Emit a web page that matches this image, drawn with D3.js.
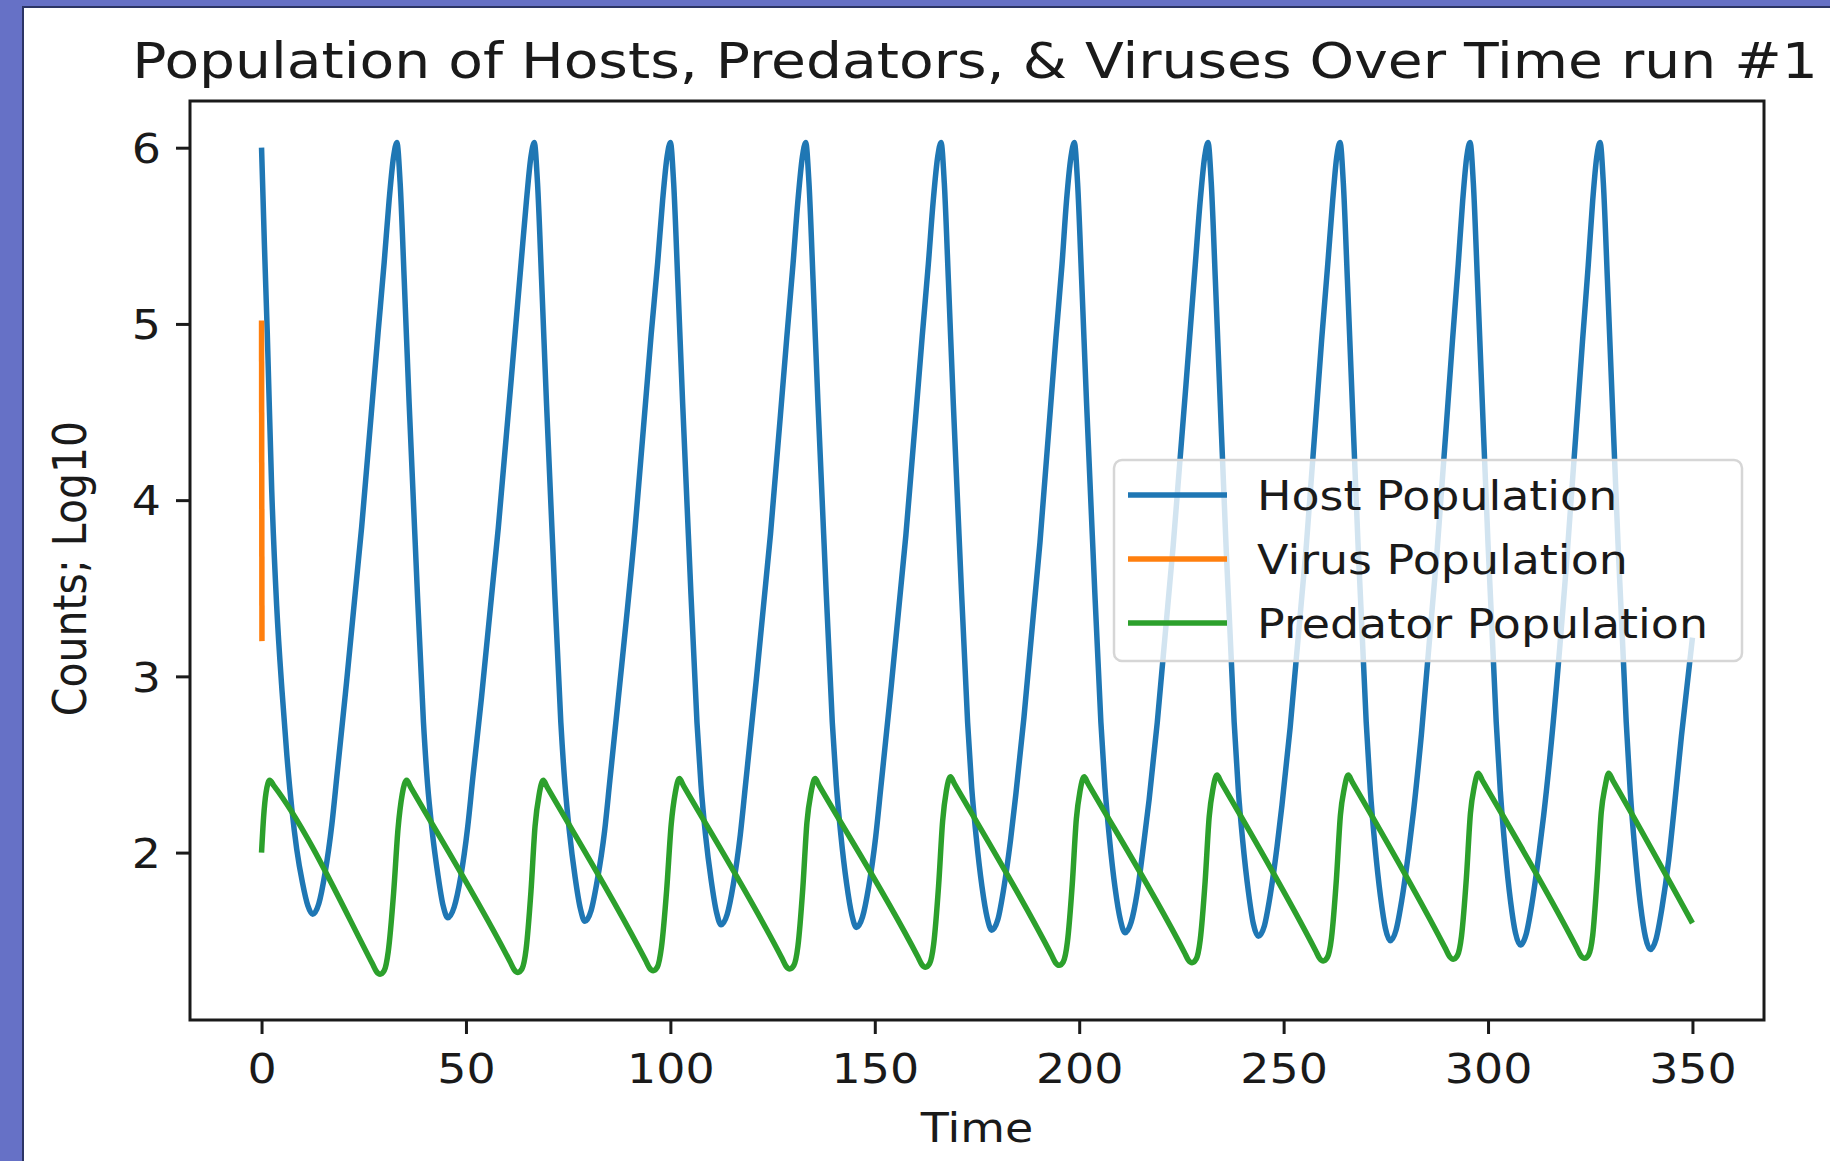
<!DOCTYPE html>
<html>
<head>
<meta charset="utf-8">
<script src="https://cdn.jsdelivr.net/npm/d3@7"></script>
<style>
  html, body { margin: 0; padding: 0; background: #fff; }
  svg { display: block; }
  text { font-family: "DejaVu Sans", sans-serif; fill: #1a1a1a; }
</style>
</head>
<body>
<div id="chart"></div>
<script>
'use strict';

// values: [time, log10 count]
const hostSeries = [
  [0, 6.00], [0.7, 5.45], [1.4, 4.95], [2.5, 4.05], [3.7, 3.40], [5.0, 2.92], [6.2, 2.55], [7.4, 2.25], [8.6, 2.02], [10.0, 1.83], [11.3, 1.70], [12.5, 1.65],
  [14.0, 1.71], [15.5, 1.88], [17.2, 2.16], [18.5, 2.45], [20.5, 2.90], [24.5, 3.85], [28.5, 4.95], [30.0, 5.35], [31.2, 5.70], [32.3, 5.95], [33.1, 6.03],
  [33.9, 5.80], [34.9, 5.25], [36.1, 4.55], [37.6, 3.75], [39.6, 2.74], [40.6, 2.39], [41.7, 2.13], [43.1, 1.88], [44.4, 1.70], [45.6, 1.63],
  [47.1, 1.69], [48.7, 1.86], [50.4, 2.14], [51.7, 2.43], [53.8, 2.88], [57.9, 3.84], [62.0, 4.94], [63.5, 5.35], [64.8, 5.70], [65.9, 5.95], [66.7, 6.03],
  [67.5, 5.80], [68.5, 5.25], [69.7, 4.55], [71.2, 3.75], [73.2, 2.74], [74.2, 2.39], [75.3, 2.12], [76.7, 1.86], [78.0, 1.68], [79.1, 1.61],
  [80.6, 1.67], [82.1, 1.84], [83.9, 2.12], [85.2, 2.41], [87.2, 2.86], [91.3, 3.82], [95.3, 4.94], [96.9, 5.35], [98.1, 5.70], [99.2, 5.95], [100.0, 6.03],
  [100.8, 5.80], [101.8, 5.25], [103.0, 4.55], [104.5, 3.75], [106.5, 2.74], [107.5, 2.38], [108.6, 2.10], [110.0, 1.84], [111.3, 1.66], [112.4, 1.59],
  [113.9, 1.65], [115.4, 1.82], [117.1, 2.10], [118.4, 2.39], [120.4, 2.84], [124.5, 3.81], [128.5, 4.93], [130.0, 5.34], [131.2, 5.70], [132.3, 5.95], [133.1, 6.03],
  [133.9, 5.80], [134.9, 5.25], [136.1, 4.55], [137.6, 3.75], [139.6, 2.74], [140.6, 2.38], [141.7, 2.10], [143.1, 1.825], [144.4, 1.645], [145.5, 1.575],
  [147.0, 1.635], [148.5, 1.805], [150.2, 2.085], [151.5, 2.375], [153.5, 2.825], [157.6, 3.80], [161.6, 4.93], [163.1, 5.34], [164.3, 5.70], [165.4, 5.95], [166.2, 6.03],
  [167.0, 5.80], [168.0, 5.25], [169.2, 4.55], [170.7, 3.75], [172.7, 2.74], [173.7, 2.37], [174.8, 2.09], [176.2, 1.81], [177.5, 1.63], [178.6, 1.56],
  [180.1, 1.62], [181.5, 1.79], [183.2, 2.07], [184.5, 2.33], [186.5, 2.77], [190.4, 3.76], [194.3, 4.92], [195.8, 5.34], [196.9, 5.70], [198.0, 5.95], [198.8, 6.03],
  [199.6, 5.80], [200.6, 5.25], [201.8, 4.55], [203.3, 3.75], [205.3, 2.74], [206.3, 2.37], [207.4, 2.08], [208.8, 1.795], [210.1, 1.615], [211.2, 1.545],
  [212.7, 1.605], [214.2, 1.775], [215.8, 2.055], [217.1, 2.30], [219.1, 2.74], [223.0, 3.745], [227.0, 4.92], [228.4, 5.34], [229.6, 5.70], [230.7, 5.95], [231.5, 6.03],
  [232.3, 5.80], [233.3, 5.25], [234.5, 4.55], [235.9, 3.75], [237.9, 2.74], [238.9, 2.36], [240.0, 2.065], [241.4, 1.775], [242.6, 1.595], [243.8, 1.525],
  [245.3, 1.585], [246.7, 1.755], [248.4, 2.035], [249.6, 2.27], [251.6, 2.71], [255.5, 3.725], [259.3, 4.91], [260.8, 5.34], [262.0, 5.70], [263.0, 5.95], [263.8, 6.03],
  [264.6, 5.80], [265.6, 5.25], [266.8, 4.55], [268.2, 3.75], [270.2, 2.74], [271.2, 2.355], [272.3, 2.05], [273.7, 1.75], [274.9, 1.57], [276.1, 1.50],
  [277.5, 1.56], [278.9, 1.73], [280.6, 2.01], [281.8, 2.24], [283.7, 2.67], [287.5, 3.70], [291.3, 4.905], [292.7, 5.335], [293.8, 5.70], [294.8, 5.95], [295.6, 6.03],
  [296.4, 5.80], [297.4, 5.25], [298.6, 4.55], [300.0, 3.75], [302.0, 2.74], [303.0, 2.35], [304.1, 2.035], [305.5, 1.725], [306.7, 1.545], [307.9, 1.475],
  [309.3, 1.535], [310.7, 1.705], [312.4, 1.985], [313.6, 2.21], [315.5, 2.63], [319.3, 3.675], [323.1, 4.90], [324.5, 5.33], [325.6, 5.70], [326.6, 5.95], [327.4, 6.03],
  [328.2, 5.80], [329.2, 5.25], [330.4, 4.55], [331.8, 3.75], [333.8, 2.74], [334.8, 2.34], [335.9, 2.02], [337.3, 1.70], [338.5, 1.52], [339.7, 1.45],
  [341.1, 1.51], [342.5, 1.68], [344.2, 1.96], [345.4, 2.22], [347.3, 2.66], [350.0, 3.22]
];

const virusSeries = [
  [0, 5.02], [0.1, 3.20]
];

const predatorSeries = [
  [0, 2.00], [0.5, 2.20], [1.1, 2.34], [2.0, 2.41], [3.0, 2.38], [27.1, 1.37], [28.1, 1.325], [29.0, 1.31],
  [30.0, 1.33], [31.0, 1.44], [32.3, 1.77], [33.4, 2.14], [34.4, 2.33], [35.5, 2.41],
  [36.5, 2.37], [60.8, 1.38], [61.8, 1.335], [62.7, 1.32],
  [63.7, 1.34], [64.7, 1.45], [65.9, 1.78], [66.9, 2.15], [67.9, 2.33], [68.9, 2.41],
  [69.9, 2.37], [93.9, 1.39], [94.9, 1.345], [95.8, 1.33],
  [96.8, 1.35], [97.8, 1.46], [99.1, 1.79], [100.2, 2.16], [101.2, 2.34], [102.2, 2.42],
  [103.2, 2.38], [127.3, 1.40], [128.3, 1.355], [129.2, 1.34],
  [130.2, 1.36], [131.2, 1.47], [132.4, 1.80], [133.4, 2.17], [134.4, 2.34], [135.4, 2.42],
  [136.4, 2.38], [160.5, 1.41], [161.5, 1.365], [162.4, 1.35],
  [163.4, 1.37], [164.4, 1.48], [165.6, 1.81], [166.6, 2.18], [167.5, 2.35], [168.5, 2.43],
  [169.5, 2.39], [193.2, 1.42], [194.2, 1.375], [195.1, 1.36],
  [196.1, 1.38], [197.1, 1.49], [198.3, 1.82], [199.3, 2.19], [200.2, 2.35], [201.2, 2.43],
  [202.2, 2.39], [225.7, 1.435], [226.7, 1.39], [227.6, 1.375],
  [228.6, 1.395], [229.6, 1.505], [230.8, 1.835], [231.8, 2.205], [232.7, 2.36], [233.7, 2.44],
  [234.7, 2.40], [257.8, 1.445], [258.8, 1.40], [259.7, 1.385],
  [260.7, 1.405], [261.7, 1.515], [262.9, 1.845], [263.9, 2.215], [264.8, 2.36], [265.8, 2.44],
  [266.8, 2.40], [289.6, 1.455], [290.6, 1.41], [291.5, 1.395],
  [292.5, 1.415], [293.5, 1.525], [294.7, 1.855], [295.7, 2.225], [296.6, 2.37], [297.6, 2.45],
  [298.6, 2.41], [321.7, 1.46], [322.7, 1.415], [323.6, 1.40],
  [324.6, 1.42], [325.6, 1.53], [326.7, 1.86], [327.7, 2.23], [328.6, 2.37], [329.5, 2.45],
  [330.5, 2.41], [350.0, 1.60]
];

const seriesNames = ["Host Population", "Virus Population", "Predator Population"];
const seriesColors = ["#1f77b4", "#ff7f0e", "#2ca02c"];

const xTicks = [0, 50, 100, 150, 200, 250, 300, 350];
const yTicks = [2, 3, 4, 5, 6];

const titleText = "Population of Hosts, Predators, & Viruses Over Time run #1";
const xLabel = "Time";
const yLabel = "Counts; Log10";


const width = 1830;
const height = 1161;
const plot = {left: 190, right: 1764, top: 101, bottom: 1020};
const stretch = 1.12; // the picture is a bit wider than tall

const series = [hostSeries, virusSeries, predatorSeries].map((values, i) => ({
  name: seriesNames[i],
  color: seriesColors[i],
  values: values
}));

const svg = d3.select("#chart")
  .append("svg")
  .attr("width", width)
  .attr("height", height);

// window frame round the figure
svg.append("rect")
  .attr("x", 0).attr("y", 0)
  .attr("width", width).attr("height", height)
  .attr("fill", "#ffffff");
svg.append("rect")
  .attr("x", 0).attr("y", 0)
  .attr("width", 23).attr("height", height)
  .attr("fill", "#6671c6");
svg.append("rect")
  .attr("x", 0).attr("y", 0)
  .attr("width", width).attr("height", 7)
  .attr("fill", "#6671c6");
svg.append("polyline")
  .attr("points", `23,${height} 23,7 ${width},7`)
  .attr("fill", "none")
  .attr("stroke", "#2c3565")
  .attr("stroke-width", 2);

const x = d3.scaleLinear()
  .domain([-17.5, 367.5])
  .range([plot.left, plot.right]);

const y = d3.scaleLinear()
  .domain([1.05, 6.265])
  .range([plot.bottom, plot.top]);

svg.append("clipPath")
  .attr("id", "plot-clip")
  .append("rect")
  .attr("x", plot.left).attr("y", plot.top)
  .attr("width", plot.right - plot.left)
  .attr("height", plot.bottom - plot.top);

const line = d3.line()
  .x(d => x(d[0]))
  .y(d => y(d[1]))
  .curve(d3.curveMonotoneX);

svg.append("g")
  .attr("clip-path", "url(#plot-clip)")
  .selectAll("path")
  .data(series)
  .enter()
  .append("path")
  .attr("fill", "none")
  .attr("stroke", d => d.color)
  .attr("stroke-width", 5.5)
  .attr("stroke-linejoin", "round")
  .attr("d", d => line(d.values));

// spines
svg.append("rect")
  .attr("x", plot.left).attr("y", plot.top)
  .attr("width", plot.right - plot.left)
  .attr("height", plot.bottom - plot.top)
  .attr("fill", "none")
  .attr("stroke", "#1a1a1a")
  .attr("stroke-width", 3);

const xAxis = d3.axisBottom(x)
  .tickValues(xTicks)
  .tickFormat(d3.format("d"))
  .tickSize(14)
  .tickSizeOuter(0)
  .tickPadding(20);

const yAxis = d3.axisLeft(y)
  .tickValues(yTicks)
  .tickFormat(d3.format("d"))
  .tickSize(14)
  .tickSizeOuter(0)
  .tickPadding(12);

const $xAxis = svg.append("g")
  .attr("transform", `translate(0, ${plot.bottom})`)
  .call(xAxis);

const $yAxis = svg.append("g")
  .attr("transform", `translate(${plot.left}, 0)`)
  .call(yAxis);

[$xAxis, $yAxis].forEach(g => {
  g.select(".domain").remove();
  g.selectAll(".tick line")
    .attr("stroke", "#1a1a1a")
    .attr("stroke-width", 3);
  g.selectAll(".tick text")
    .attr("font-family", "DejaVu Sans")
    .attr("font-size", 41)
    .attr("fill", "#1a1a1a")
    .attr("transform", `scale(${stretch},1)`);
});
$yAxis.selectAll(".tick text").attr("dy", "0.36em");

// title and axis labels
svg.append("text")
  .attr("transform", `translate(${(plot.left + plot.right) / 2 - 2}, 78) scale(1.158,1)`)
  .attr("text-anchor", "middle")
  .attr("font-size", 49)
  .text(titleText);

svg.append("text")
  .attr("transform", `translate(${(plot.left + plot.right) / 2}, 1142) scale(${stretch},1)`)
  .attr("text-anchor", "middle")
  .attr("font-size", 41)
  .text(xLabel);

svg.append("text")
  .attr("transform", `translate(86, ${(plot.top + plot.bottom) / 2 + 8}) scale(${stretch},1) rotate(-90)`)
  .attr("text-anchor", "middle")
  .attr("font-size", 41)
  .text(yLabel);

// legend
const legend = svg.append("g");

legend.append("rect")
  .attr("x", 1114).attr("y", 460)
  .attr("width", 628).attr("height", 201)
  .attr("rx", 8)
  .attr("fill", "#ffffff")
  .attr("fill-opacity", 0.8)
  .attr("stroke", "#d6d6d6")
  .attr("stroke-width", 2.5);

const rows = legend.selectAll("g.row")
  .data(series)
  .enter()
  .append("g")
  .attr("class", "row")
  .attr("transform", (d, i) => `translate(0, ${495 + i * 64})`);

rows.append("line")
  .attr("x1", 1128).attr("x2", 1227)
  .attr("y1", 0).attr("y2", 0)
  .attr("stroke", d => d.color)
  .attr("stroke-width", 5.5);

rows.append("text")
  .attr("transform", `translate(1257, 15) scale(${stretch},1)`)
  .attr("font-size", 41)
  .text(d => d.name);
</script>
</body>
</html>
